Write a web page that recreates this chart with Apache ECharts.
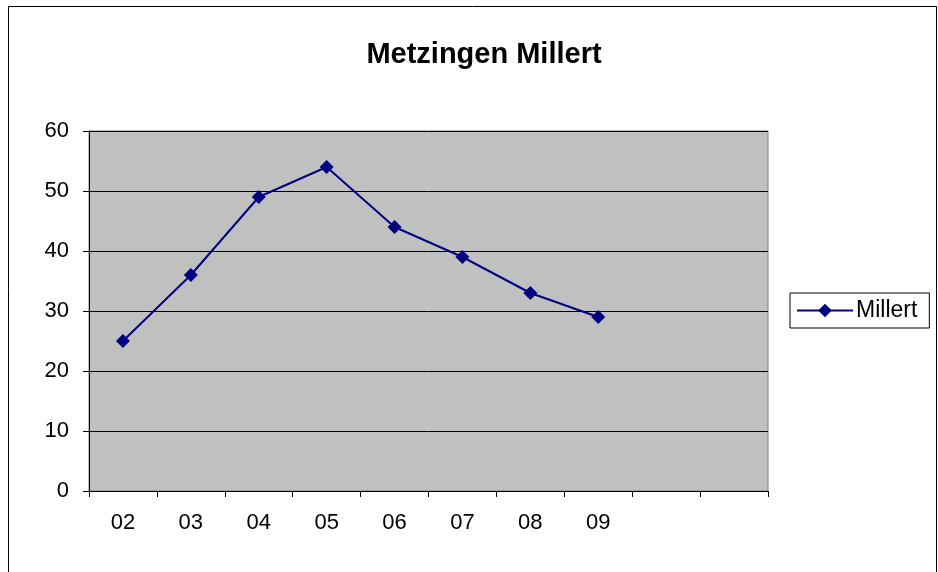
<!DOCTYPE html>
<html>
<head>
<meta charset="utf-8">
<script src="https://cdn.jsdelivr.net/npm/echarts@6/dist/echarts.min.js"></script>
<style>
  html, body { margin: 0; padding: 0; background: #fff; }
  #main { width: 938px; height: 572px; }
</style>
</head>
<body>
<div id="main"></div>
<script>
var years = ['02', '03', '04', '05', '06', '07', '08', '09', '', ''];
var millert = [25, 36, 49, 54, 44, 39, 33, 29, null, null];
var yTicks = [0, 10, 20, 30, 40, 50, 60];

var chart = echarts.init(document.getElementById('main'));
var option = {
  animation: false,
  backgroundColor: '#fff',
  textStyle: { fontFamily: 'Liberation Sans, Arial, sans-serif' },
  title: {
    text: 'Metzingen Millert',
    left: 479,
    top: 35,
    textAlign: 'center',
    textStyle: { fontSize: 29, fontWeight: 'bold', color: '#000' }
  },
  graphic: [{
    // outer chart border
    type: 'rect',
    shape: { x: 8.5, y: 6.5, width: 928, height: 620 },
    style: { fill: 'none', stroke: '#000', lineWidth: 1 },
    silent: true,
    z: 100
  }],
  legend: {
    data: ['Millert'],
    left: 790,
    top: 293,
    orient: 'vertical',
    padding: [6, 12, 6, 6],
    itemWidth: 56,
    itemHeight: 17,
    itemGap: 0,
    borderColor: '#000',
    borderWidth: 1,
    borderRadius: 0,
    textStyle: { fontSize: 23, color: '#000', padding: [0, 0, 0, -2] }
  },
  grid: {
    left: 89,
    right: 170,
    top: 131,
    bottom: 81,
    show: true,
    backgroundColor: '#c0c0c0',
    borderColor: '#808080',
    borderWidth: 1
  },
  xAxis: {
    type: 'category',
    data: years,
    boundaryGap: true,
    axisLine: { lineStyle: { color: '#000', width: 1 } },
    axisTick: { show: true, length: 6, alignWithLabel: false, lineStyle: { color: '#000' } },
    axisLabel: { fontSize: 22, color: '#000', margin: 21, interval: 0 },
    splitLine: { show: false }
  },
  yAxis: {
    type: 'value',
    min: yTicks[0],
    max: yTicks[yTicks.length - 1],
    interval: 10,
    axisLine: { show: true, lineStyle: { color: '#000', width: 1 } },
    axisTick: { show: true, length: 6, lineStyle: { color: '#000' } },
    axisLabel: { fontSize: 22, color: '#000', margin: 20 },
    splitLine: { show: true, lineStyle: { color: '#000', width: 1 } }
  },
  series: [{
    name: 'Millert',
    type: 'line',
    data: millert,
    connectNulls: false,
    symbol: 'diamond',
    symbolSize: 14,
    color: '#000080',
    lineStyle: { color: '#000080', width: 2 },
    itemStyle: { color: '#000080' }
  }]
};
chart.setOption(option);
</script>
</body>
</html>
